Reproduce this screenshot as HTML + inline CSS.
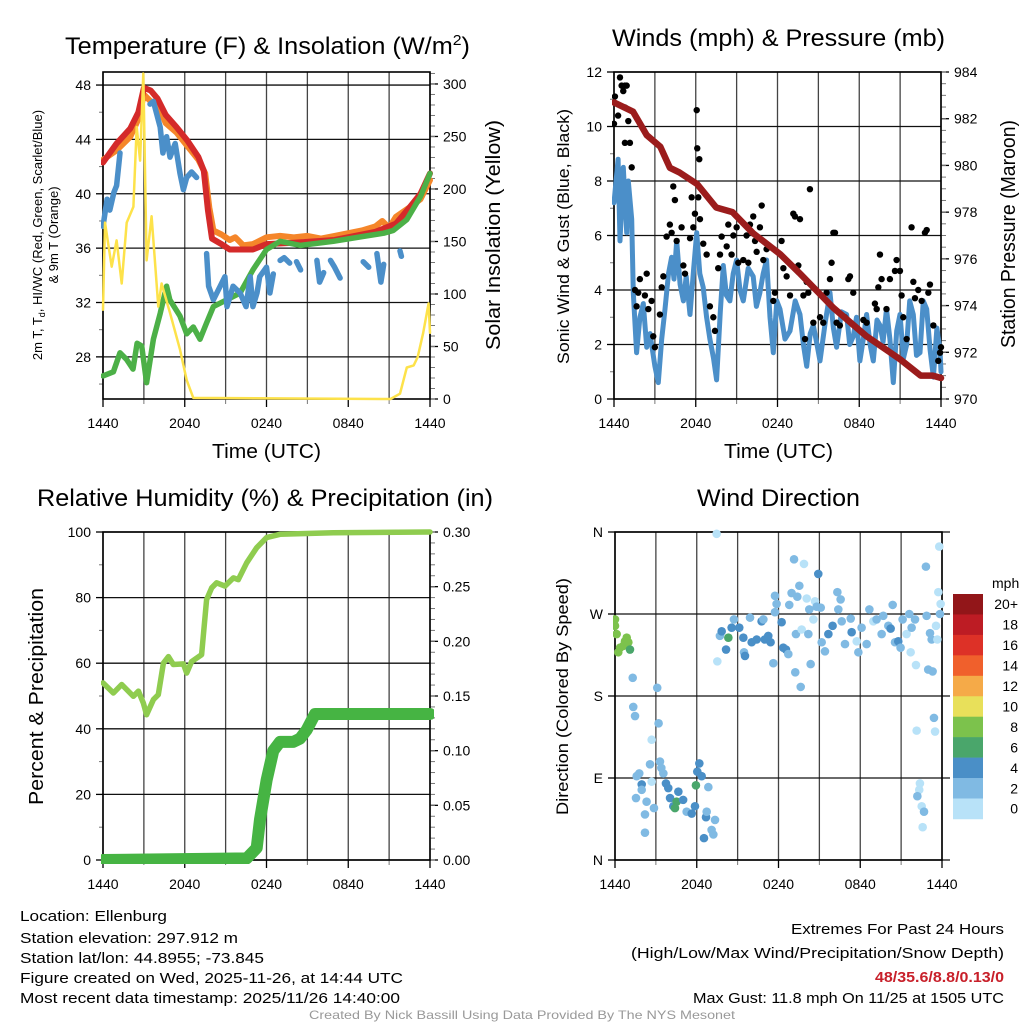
<!DOCTYPE html>
<html><head><meta charset="utf-8"><style>
html,body{margin:0;padding:0;background:#fff;}
svg{display:block;font-family:"Liberation Sans",Arial,sans-serif;}
</style></head><body>
<svg id="fig" width="1024" height="1024" viewBox="0 0 1024 1024" xmlns="http://www.w3.org/2000/svg">
<rect width="1024" height="1024" fill="#fff"/>
<g id="g1"></g>
<g id="g2"></g>
<g id="g3"></g>
<g id="g4"></g>
<g id="gc"></g>
<text x="65" y="54" font-size="24" textLength="405" lengthAdjust="spacingAndGlyphs">Temperature (F) &amp; Insolation (W/m<tspan dy="-9" font-size="15">2</tspan><tspan dy="9">)</tspan></text>
<text x="612" y="46" font-size="24" textLength="333" lengthAdjust="spacingAndGlyphs">Winds (mph) &amp; Pressure (mb)</text>
<text x="37" y="506" font-size="24" textLength="456" lengthAdjust="spacingAndGlyphs">Relative Humidity (%) &amp; Precipitation (in)</text>
<text x="697" y="506" font-size="24" textLength="163" lengthAdjust="spacingAndGlyphs">Wind Direction</text>
<text x="212" y="458" font-size="20" textLength="109" lengthAdjust="spacingAndGlyphs">Time (UTC)</text>
<text x="724" y="458" font-size="20" textLength="109" lengthAdjust="spacingAndGlyphs">Time (UTC)</text>
<text transform="translate(42,235) rotate(-90)" font-size="13" text-anchor="middle">2m T, T<tspan dy="3" font-size="9">d</tspan><tspan dy="-3">, HI/WC (Red, Green, Scarlet/Blue)</tspan></text>
<text transform="translate(58,235) rotate(-90)" font-size="13" text-anchor="middle">&amp; 9m T (Orange)</text>
<text transform="translate(500,350) rotate(-90)" font-size="20" textLength="230" lengthAdjust="spacingAndGlyphs">Solar Insolation (Yellow)</text>
<text transform="translate(569,364) rotate(-90)" font-size="17" textLength="255" lengthAdjust="spacingAndGlyphs">Sonic Wind &amp; Gust (Blue, Black)</text>
<text transform="translate(1015,348) rotate(-90)" font-size="20" textLength="228" lengthAdjust="spacingAndGlyphs">Station Pressure (Maroon)</text>
<text transform="translate(43,805) rotate(-90)" font-size="20" textLength="217" lengthAdjust="spacingAndGlyphs">Percent &amp; Precipitation</text>
<text transform="translate(568,815) rotate(-90)" font-size="17" textLength="237" lengthAdjust="spacingAndGlyphs">Direction (Colored By Speed)</text>
<g font-size="15">
<text x="20" y="921" textLength="147" lengthAdjust="spacingAndGlyphs">Location: Ellenburg</text>
<text x="20" y="943" textLength="218" lengthAdjust="spacingAndGlyphs">Station elevation: 297.912 m</text>
<text x="20" y="963" textLength="244" lengthAdjust="spacingAndGlyphs">Station lat/lon: 44.8955; -73.845</text>
<text x="20" y="983" textLength="383" lengthAdjust="spacingAndGlyphs">Figure created on Wed, 2025-11-26, at 14:44 UTC</text>
<text x="20" y="1003" textLength="380" lengthAdjust="spacingAndGlyphs">Most recent data timestamp: 2025/11/26 14:40:00</text>
</g>
<g font-size="15">
<text x="791" y="934" textLength="213" lengthAdjust="spacingAndGlyphs">Extremes For Past 24 Hours</text>
<text x="631" y="958" textLength="373" lengthAdjust="spacingAndGlyphs">(High/Low/Max Wind/Precipitation/Snow Depth)</text>
<text x="875" y="982" textLength="129" lengthAdjust="spacingAndGlyphs" font-weight="bold" fill="#c8202a">48/35.6/8.8/0.13/0</text>
<text x="693" y="1003" textLength="311" lengthAdjust="spacingAndGlyphs">Max Gust: 11.8 mph On 11/25 at 1505 UTC</text>
</g>
<text x="309" y="1019" font-size="12" fill="#999" textLength="426" lengthAdjust="spacingAndGlyphs">Created By Nick Bassill Using Data Provided By The NYS Mesonet</text>
</svg>
<script>
// ---- data (hours since 1440 UTC) ----
const xTickLabels = ["1440","2040","0240","0840","1440"];
const tempRed = [[0,42.3],[1,43.7],[2,44.8],[2.6,46],[3.0,47.8],[3.5,47.6],[4,47.0],[4.6,45.8],[5.4,44.9],[6.2,43.9],[7.0,42.7],[7.4,41.7],[7.7,38.8],[8.0,36.7],[8.7,36.3],[9.3,35.9],[11,35.9],[12,36.3],[14,36.4],[17,36.6],[20,37.2],[21.5,37.8],[22.5,39.0],[23.3,40.0],[24,41.5]];
const tempOrange = [[0,42.5],[1,43.2],[2,44.2],[2.6,45.5],[3.0,47.3],[3.5,46.8],[4,46.6],[4.6,45.2],[5.4,44.5],[6.2,43.5],[7.0,42.5],[7.5,41.5],[7.8,39],[8.1,37.3],[8.7,37],[9.3,36.6],[9.7,36.8],[10.3,36.2],[11,36.3],[12,36.8],[13,36.9],[14,36.8],[15,36.9],[16,36.7],[17,36.9],[18,37.1],[19,37.3],[20,37.6],[20.5,38],[21,37.5],[21.5,38.3],[22.5,39],[23.3,39.6],[24,41.0]];
const tempGreen = [[0,26.6],[0.76,26.9],[1.25,28.3],[1.74,27.8],[2.2,27.1],[2.5,29.0],[2.84,28.8],[3.2,26.1],[3.7,29.3],[4.2,31.2],[4.67,33.2],[4.9,32.2],[5.65,31.0],[6.14,29.7],[6.63,30.2],[7.12,29.3],[7.6,30.5],[8.1,31.7],[9.08,32.2],[10.06,32.7],[11.0,34.4],[12.0,35.9],[13.0,36.5],[14.5,36.2],[16.9,36.5],[19.35,36.9],[20.6,37.1],[21.3,37.3],[22.3,38.1],[23.3,39.8],[24,41.5]];
const tempBlue = [[0,37.6],[0.3,39.6],[0.5,38.8],[0.8,40.1],[1.0,40.6],[1.25,43.0],null,
 [3.45,46.6],[3.7,46.8],[4.2,44.9],[4.4,43.0],[4.67,44.2],[4.92,42.7],[5.3,43.7],[5.65,41.5],[5.9,40.3],[6.14,41.2],[6.5,41.6],[6.87,41.2],null,
 [7.6,35.6],[7.75,33.2],[8.1,32.2],[8.6,33.2],[8.95,33.9],[9.1,31.7],[9.55,33.2],[10.06,32.7],[10.5,31.7],[10.8,33.9],[11.0,31.7],[11.3,32.7],[11.5,33.9],[12.0,34.6],[12.25,32.7],[12.5,34.1],null,
 [13.0,35.1],[13.3,35.3],[13.7,34.9],null,[14.2,35.0],[14.5,34.4],null,[15.7,35.1],[15.9,33.5],[16.2,34.2],null,
 [16.7,35.1],[17.0,34.6],[17.4,33.8],null,[19.1,35.0],[19.5,34.6],null,[20.1,35.6],[20.4,33.5],[20.6,34.8],null,[21.8,35.8],[21.9,35.4]];
const insolation = [[0,85],[0.15,168],[0.64,126],[1.0,151],[1.37,110],[1.74,168],[2.23,183],[2.47,259],[2.72,227],[2.96,310],[3.2,132],[3.57,174],[4.06,88],[4.3,110],[4.92,82],[5.65,47],[6.14,18],[6.63,1],[21.1,0],[21.8,5],[22.3,30],[22.8,32],[23.1,40],[23.5,63],[23.9,91],[24,63]];
const windSpeed = [[0,7.2],[0.3,8.8],[0.44,5.8],[0.68,8.5],[0.93,6.1],[1.05,8.0],[1.3,6.6],[1.42,3.9],[1.66,1.7],[1.9,3.0],[2.15,3.5],[2.4,1.9],[2.64,2.4],[3.0,1.2],[3.25,0.6],[3.5,2.2],[3.74,3.3],[4.0,4.6],[4.23,5.2],[4.4,4.4],[4.6,5.8],[4.85,4.2],[5.09,3.6],[5.3,4.5],[5.58,3.1],[5.85,4.8],[6.07,6.1],[6.3,4.6],[6.55,4.1],[6.8,3.0],[7.04,2.2],[7.3,1.5],[7.53,0.7],[7.8,3.2],[8.02,4.9],[8.25,3.8],[8.51,3.6],[8.75,4.6],[9.0,5.1],[9.25,4.0],[9.49,3.6],[9.85,4.8],[10.22,4.5],[10.45,3.4],[10.71,3.9],[10.95,4.6],[11.2,5.1],[11.45,3.0],[11.69,1.7],[11.95,3.6],[12.18,3.3],[12.55,2.2],[12.92,2.5],[13.3,3.6],[13.65,3.1],[13.9,2.0],[14.14,1.2],[14.4,2.4],[14.63,2.7],[14.9,2.0],[15.12,1.4],[15.5,2.8],[15.85,3.9],[16.1,2.6],[16.34,1.9],[16.7,3.2],[17.07,3.1],[17.3,2.0],[17.56,2.3],[17.8,3.0],[18.05,1.4],[18.3,2.2],[18.54,3.1],[18.8,2.0],[19.03,1.4],[19.3,2.9],[19.52,2.7],[19.75,2.1],[20.0,3.3],[20.25,2.2],[20.5,0.6],[20.75,2.5],[20.99,3.1],[21.25,1.5],[21.48,2.0],[21.7,3.6],[21.97,3.1],[22.2,1.6],[22.46,1.7],[22.7,3.6],[22.95,3.3],[23.2,1.8],[23.44,0.8],[23.7,2.6],[23.93,1.8],[24,1.0]];
const gustHours = [0.0,0.07,0.3,0.44,0.56,0.8,0.93,0.8,0.68,1.05,0.8,1.17,1.3,1.54,1.66,1.9,1.78,2.4,2.27,2.52,2.76,2.88,3.0,3.37,3.5,3.62,3.86,4.1,4.23,4.47,4.35,4.6,4.96,5.09,5.21,5.58,5.7,5.82,5.94,6.07,6.11,6.26,6.19,6.31,6.55,6.8,7.04,7.29,7.41,7.65,7.78,7.9,8.27,8.39,8.63,8.76,9.0,9.12,9.49,9.73,9.86,9.98,10.22,10.35,10.47,10.71,10.84,10.96,11.2,11.69,11.81,12.3,12.43,12.67,12.92,13.16,13.28,13.53,13.65,13.9,14.02,14.14,14.26,14.38,14.63,15.12,15.36,15.6,15.85,15.97,16.1,16.22,16.34,16.58,16.95,17.2,17.32,17.56,18.3,18.54,19.15,19.28,19.4,19.52,19.64,20.0,20.25,20.62,20.74,20.99,21.11,21.23,21.48,21.84,21.97,22.09,22.33,22.58,22.82,22.95,23.07,23.19,23.44,23.8,23.93,24.0];
const gustValues = [10.1,11.1,10.4,11.8,11.5,11.5,11.5,10.7,11.3,10.2,9.4,9.4,8.5,4.0,3.4,4.4,3.9,4.6,3.8,3.3,3.6,2.3,1.9,3.1,4.1,4.5,5.96,6.4,6.1,7.3,7.8,5.8,6.3,4.9,4.6,5.9,7.4,6.3,6.8,10.6,9.2,8.8,7.4,6.6,5.7,5.3,3.4,3.0,2.5,4.8,5.3,5.96,5.6,6.4,5.3,6.0,6.3,5.0,5.1,6.0,5.0,6.4,6.7,5.8,5.4,6.3,7.1,5.1,5.5,3.6,3.9,5.8,4.8,4.5,3.8,6.8,6.7,4.9,6.6,3.8,2.2,4.3,3.9,7.7,2.8,3.0,2.8,3.9,4.4,5.0,6.1,6.1,2.8,2.7,3.0,4.4,4.5,3.9,2.9,2.8,3.5,3.3,4.1,5.3,4.4,3.3,4.4,4.7,5.1,4.7,3.8,3.0,2.2,6.3,4.3,3.7,4.0,3.6,6.1,6.2,3.9,4.2,2.7,1.4,1.7,1.9];
const pressure = [[0,982.7],[1.4,982.3],[2.4,981.3],[3.4,980.8],[4.1,979.9],[4.8,979.7],[6.1,979.2],[7.5,978.2],[8.7,978.0],[10.2,977.1],[12.2,976.2],[13.6,975.4],[16.1,973.9],[18.5,972.7],[21,971.7],[22.5,971.0],[23.4,971.0],[24,970.9]];
const rh = [[0,54],[0.76,50.9],[1.37,53.5],[2.23,49.9],[2.6,51.5],[2.96,47.9],[3.2,44.3],[3.7,48.9],[4.06,50.4],[4.43,60],[4.8,62],[5.16,59.6],[5.9,59.8],[6.14,57],[6.5,60.5],[7.24,62.6],[7.6,79.4],[7.98,83],[8.34,84.5],[8.95,83.5],[9.57,86],[9.93,85.5],[10.55,90.6],[11.28,95.2],[12.01,98.3],[12.99,99.3],[16.9,99.8],[24,100]];
const precip = [[0,0],[10.55,0.0015],[11.28,0.011],[11.52,0.037],[12.01,0.073],[12.5,0.1],[12.99,0.108],[13.97,0.108],[14.46,0.111],[14.95,0.119],[15.56,0.1335],[24,0.1335]];
const dirHours = [0.0,0.0,0.12,0.86,0.98,0.37,0.24,0.61,1.1,0.73,1.3,1.34,1.47,3.1,3.2,2.69,1.59,1.78,1.96,1.96,1.54,2.32,2.2,2.2,2.86,2.57,2.69,3.3,3.4,3.55,3.74,3.91,4.04,4.28,4.52,4.4,4.65,5.0,5.26,5.63,5.87,6.19,6.04,6.36,5.94,6.85,6.68,6.53,6.73,7.09,7.22,7.34,7.46,7.51,7.7,7.83,8.15,8.32,8.56,8.73,9.12,9.42,9.47,9.54,9.91,10.03,10.4,10.76,10.89,10.99,11.25,11.42,11.62,11.74,11.86,11.74,12.23,12.35,12.55,12.72,12.79,12.96,13.14,13.38,13.28,13.53,13.23,13.63,13.7,13.87,14.07,14.26,14.36,14.19,14.56,14.68,14.8,14.92,15.1,15.17,15.41,15.66,15.97,16.32,16.56,16.39,16.64,16.88,17.3,17.37,17.74,17.86,18.1,18.47,18.67,18.96,19.2,19.57,19.69,20.06,20.23,20.38,20.55,20.79,20.96,21.11,21.4,21.6,21.77,22.02,21.7,22.09,22.14,22.38,22.33,22.19,22.51,22.68,22.58,22.82,22.87,23.12,23.24,22.99,23.31,23.41,23.49,23.56,23.66,23.73,23.8,23.9,23.85];
const dirDegrees = [264,257,248,244,239,233,228,235,231,240,200,168,158,189,150,132,92,95,83,77,68,64,50,30,57,105,86,108,101,95,84,79,68,59,64,57,75,66,53,51,59,106,97,92,82,80,47,24,53,33,28,44,358,218,246,251,231,244,255,264,255,244,228,224,266,239,242,262,264,242,246,239,216,290,281,272,261,233,231,226,280,293,330,289,248,301,206,190,253,325,287,275,215,248,264,284,278,314,277,239,229,248,257,294,286,275,262,237,265,250,240,228,255,237,275,262,264,248,268,257,254,280,239,240,233,264,248,270,255,264,228,214,142,84,77,70,59,53,36,322,268,249,242,209,207,156,141,257,242,294,344,281,270];
const dirSpeeds = [8,8,8,7,8,8,8,8,6,8,2,2,2,1,1,0,2,2,4,2,1,2,2,2,2,2,0,2,2,2,4,4,4,4,6,6,4,4,2,4,4,4,4,4,6,2,4,4,2,2,2,1,0,0,2,4,4,6,4,2,4,4,2,4,2,4,4,4,2,4,4,4,2,2,2,2,4,4,4,2,2,2,2,2,2,2,2,2,0,0,0,2,2,2,0,0,2,4,2,2,2,4,4,2,2,2,2,2,2,4,0,2,2,2,2,0,2,2,2,2,4,2,2,4,2,2,0,2,2,2,0,0,0,0,0,2,0,2,0,2,2,2,2,2,2,2,0,0,0,0,0,0,2];
const cbLabels = ["20+","18","16","14","12","10","8","6","4","2","0"];
const cbColors = ["#921619","#bd1c24","#dd3127","#f0602c","#f5aa48","#e8e05a","#7cc24c","#4aa66b","#4a8fc7","#80bae3","#b8e2f8"];

const NS="http://www.w3.org/2000/svg";
function mk(parent,tag,attrs){const e=document.createElementNS(NS,tag);for(const k in attrs)e.setAttribute(k,attrs[k]);parent.appendChild(e);return e;}
function speedColor(s){if(s<1)return cbColors[10];if(s<3)return cbColors[9];if(s<5)return cbColors[8];if(s<7)return cbColors[7];if(s<9)return cbColors[6];return cbColors[5];}

function makePanel(g,c){
  const sx=h=>c.x0+(h/24)*(c.x1-c.x0);
  const sy=v=>c.y1-(v-c.lmin)/(c.lmax-c.lmin)*(c.y1-c.y0);
  const sy2=c.rmin!==undefined?(v=>c.y1-(v-c.rmin)/(c.rmax-c.rmin)*(c.y1-c.y0)):null;
  for(let h=0;h<=24;h+=3){const x=sx(h);
    const l=mk(g,'line',{x1:x,x2:x,y1:c.y0,y2:c.y1,stroke:'#444','stroke-width':1.3});
    
    }
  c.lticks.forEach((t,i)=>{const y=sy(t);
    const l=mk(g,'line',{x1:c.x0,x2:c.x1+(c.gridExt||0),y1:y,y2:y,stroke:'#111','stroke-width':1.3});
    
    
    mk(g,'line',{x1:c.x0-7,x2:c.x0,y1:y,y2:y,stroke:'#000','stroke-width':1.3});
    const tx=mk(g,'text',{x:c.x0-12,y:y+5,'font-size':14,'text-anchor':'end'});tx.textContent=c.llabels[i];
    
    });
  if(c.lminor)c.lminor.forEach(t=>{const y=sy(t);mk(g,'line',{x1:c.x0-4,x2:c.x0,y1:y,y2:y,stroke:'#777','stroke-width':1});});
  if(sy2){
    c.rticks.forEach((t,i)=>{const y=sy2(t);
      mk(g,'line',{x1:c.x1,x2:c.x1+8,y1:y,y2:y,stroke:'#000','stroke-width':1.3});
      const tx=mk(g,'text',{x:c.x1+13,y:y+5,'font-size':14});tx.textContent=c.rlabels[i];
      
      });
    c.rminor.forEach(t=>{const y=sy2(t);mk(g,'line',{x1:c.x1,x2:c.x1+5,y1:y,y2:y,stroke:'#777','stroke-width':1});});
  }
  xTickLabels.forEach((lab,i)=>{const x=sx(i*6);
    mk(g,'line',{x1:x,x2:x,y1:c.y1,y2:c.y1+8,stroke:'#000','stroke-width':1.3});
    const tx=mk(g,'text',{x:x,y:c.y1+29,'font-size':14,'text-anchor':'middle'});tx.textContent=lab;
    
    });
  for(let h=3;h<24;h+=6){const x=sx(h);mk(g,'line',{x1:x,x2:x,y1:c.y1,y2:c.y1+5,stroke:'#777','stroke-width':1});}
  const f=mk(g,'rect',{x:c.x0,y:c.y0,width:c.x1-c.x0,height:c.y1-c.y0,fill:'none',stroke:'#000','stroke-width':1.6});
  
  
  const clipId='clip'+g.id;
  const cp=mk(g,'clipPath',{id:clipId});mk(cp,'rect',{x:c.x0-2,y:c.y0-4,width:c.x1-c.x0+6,height:c.y1-c.y0+8});
  const plot=mk(g,'g',{'clip-path':'url(#'+clipId+')'});
  return {sx,sy,sy2,plot};
}
function line(p,pts,sx,sy,color,w,name){
  let segs=[],cur=[];
  pts.forEach(q=>{if(q===null){if(cur.length)segs.push(cur);cur=[];}else cur.push(sx(q[0]).toFixed(1)+','+sy(q[1]).toFixed(1));});
  if(cur.length)segs.push(cur);
  segs.forEach(s=>{const pl=mk(p,'polyline',{points:s.join(' '),fill:'none',stroke:color,'stroke-width':w,'stroke-linejoin':'round','stroke-linecap':'round'});
    
    });
}
function range(a,b,s){const r=[];for(let v=a;v<=b+1e-9;v+=s)r.push(+v.toFixed(4));return r;}

(function(){
  const g=document.getElementById('g1');
  const P=makePanel(g,{x0:103,x1:430,y0:72,y1:399,lmin:24.9,lmax:48.96,lticks:[28,32,36,40,44,48],llabels:["28","32","36","40","44","48"],lminor:[26,30,34,38,42,46],
    rmin:0,rmax:311.4,rticks:[0,50,100,150,200,250,300],rlabels:["0","50","100","150","200","250","300"],rminor:range(0,310,10)});
  line(P.plot,tempOrange,P.sx,P.sy,'#f5862a',6,'series-9m-temp');
  line(P.plot,tempRed,P.sx,P.sy,'#d42a2a',6,'series-2m-temp');
  line(P.plot,tempGreen,P.sx,P.sy,'#4cb047',5.5,'series-dewpoint');
  line(P.plot,tempBlue,P.sx,P.sy,'#4b8fc9',5.5,'series-heat-index-windchill');
  line(P.plot,insolation,P.sx,P.sy2,'#fde24a',2.5,'series-insolation');
})();
(function(){
  const g=document.getElementById('g2');
  const P=makePanel(g,{x0:614,x1:941,y0:72,y1:399,lmin:0,lmax:12,lticks:[0,2,4,6,8,10,12],llabels:["0","2","4","6","8","10","12"],lminor:[1,3,5,7,9,11],
    rmin:970,rmax:984,rticks:[970,972,974,976,978,980,982,984],rlabels:["970","972","974","976","978","980","982","984"],rminor:range(970,984,0.5)});
  line(P.plot,windSpeed,P.sx,P.sy,'#4b8fc9',5,'series-sonic-wind');
  gustHours.forEach((h,i)=>{const c=mk(P.plot,'circle',{cx:P.sx(h),cy:P.sy(gustValues[i]),r:3.2,fill:'#000'});
    
    });
  line(P.plot,pressure,P.sx,P.sy2,'#9b1c1c',6.5,'series-pressure');
})();
(function(){
  const g=document.getElementById('g3');
  const P=makePanel(g,{x0:103,x1:430,y0:532,y1:860,lmin:0,lmax:100,lticks:[0,20,40,60,80,100],llabels:["0","20","40","60","80","100"],lminor:[10,30,50,70,90],
    rmin:0,rmax:0.30,rticks:[0,0.05,0.1,0.15,0.2,0.25,0.3],rlabels:["0.00","0.05","0.10","0.15","0.20","0.25","0.30"],rminor:range(0,0.3,0.01)});
  line(P.plot,rh,P.sx,P.sy,'#8fcc4f',5.5,'series-relative-humidity');
  line(P.plot,precip,P.sx,P.sy2,'#46b443',12,'series-precipitation');
})();
(function(){
  const g=document.getElementById('g4');
  const P=makePanel(g,{x0:615,x1:942,y0:532,y1:860,gridExt:8,lmin:0,lmax:360,lticks:[0,90,180,270,360],llabels:["N","E","S","W","N"]});
  dirHours.forEach((h,i)=>{const c=mk(P.plot,'circle',{cx:P.sx(h),cy:P.sy(dirDegrees[i]),r:4.3,fill:speedColor(dirSpeeds[i])});
    
    });
})();
(function(){
  const g=document.getElementById('gc');
  const y0=594,bh=20.45;
  cbColors.forEach((col,i)=>{const r=mk(g,'rect',{x:953,y:y0+i*bh,width:30,height:bh+0.3,fill:col});
    
    
    const t=mk(g,'text',{x:1018,y:y0+i*bh+bh/2+5,'font-size':14,'text-anchor':'end'});t.textContent=cbLabels[i];
    
    });
  const t=mk(g,'text',{x:992,y:588,'font-size':14});t.textContent='mph';
  
  
})();
</script>
</body></html>
